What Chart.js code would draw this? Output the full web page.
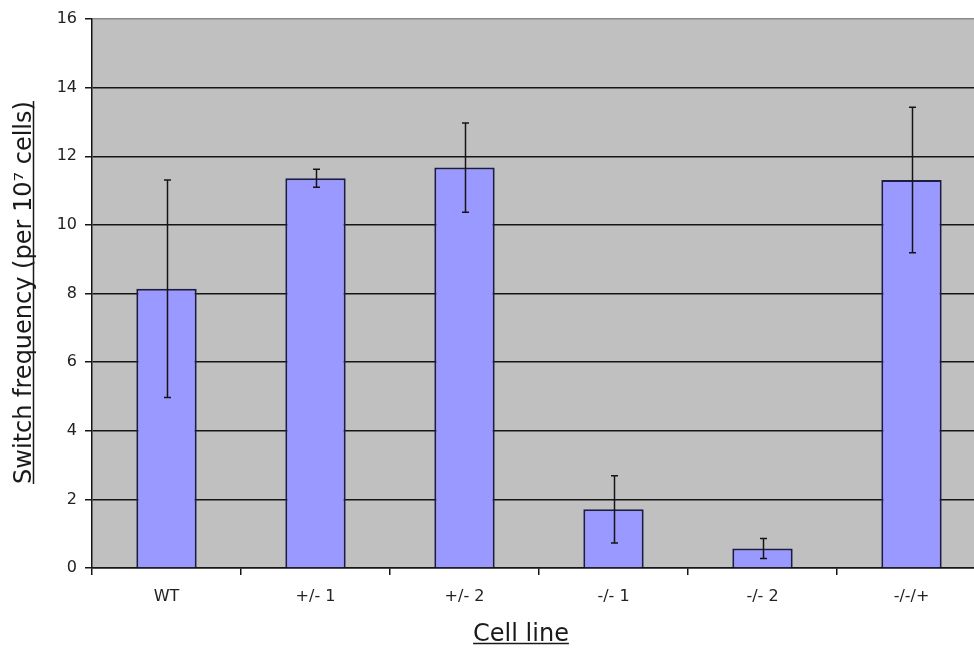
<!DOCTYPE html>
<html>
<head>
<meta charset="utf-8">
<script src="https://cdn.jsdelivr.net/npm/chart.js@4"></script>
<style>
  html, body { margin: 0; padding: 0; background: #ffffff; overflow: hidden; }
  #wrap { width: 986px; height: 649px; }
</style>
</head>
<body>
<div id="wrap"><canvas id="chart" width="986" height="649"></canvas></div>
<script>
// Cell lines and measured switch frequencies (per 10^7 cells)
const cellLines = ['WT', '+/- 1', '+/- 2', '-/- 1', '-/- 2', '-/-/+'];
const switchFrequency = [8.14, 11.36, 11.67, 1.71, 0.57, 11.31];
const errorValues = [3.17, 0.26, 1.30, 0.98, 0.29, 2.12];
const yTicks = [0, 2, 4, 6, 8, 10, 12, 14, 16];

const yTitle = 'Switch frequency (per 10\u2077 cells)';
const xTitle = 'Cell line';

const FONT = '"DejaVu Sans", Verdana, sans-serif';

// grey plot background
const plotBackground = {
  id: 'plotBackground',
  beforeDraw(chart) {
    const { ctx, chartArea: a } = chart;
    ctx.save();
    ctx.fillStyle = '#c0c0c0';
    ctx.fillRect(a.left, a.top, a.right - a.left, a.bottom - a.top);
    ctx.restore();
  }
};

// symmetric error bars from errorValues
const errorBars = {
  id: 'errorBars',
  afterDatasetsDraw(chart) {
    const { ctx } = chart;
    const y = chart.scales.y;
    const meta = chart.getDatasetMeta(0);
    ctx.save();
    ctx.strokeStyle = '#151515';
    ctx.lineWidth = 1.5;
    meta.data.forEach((bar, i) => {
      const v = switchFrequency[i], e = errorValues[i];
      const top = y.getPixelForValue(v + e);
      const bot = y.getPixelForValue(v - e);
      const x = Math.round(bar.x) + 0.5;
      ctx.beginPath();
      ctx.moveTo(x, top); ctx.lineTo(x, bot);
      ctx.moveTo(x - 3.5, top); ctx.lineTo(x + 3.5, top);
      ctx.moveTo(x - 3.5, bot); ctx.lineTo(x + 3.5, bot);
      ctx.stroke();
    });
    ctx.restore();
  }
};

// underlined axis titles
const axisTitles = {
  id: 'axisTitles',
  afterDraw(chart) {
    const { ctx, chartArea: a } = chart;
    ctx.save();
    ctx.fillStyle = '#1a1a1a';
    ctx.strokeStyle = '#1a1a1a';
    ctx.lineWidth = 1.5;
    ctx.font = '24px ' + FONT;
    ctx.textBaseline = 'alphabetic';
    ctx.textAlign = 'center';

    // x title
    const xw = ctx.measureText(xTitle).width;
    const xc = 521, xb = 641;
    ctx.fillText(xTitle, xc, xb);
    ctx.beginPath();
    ctx.moveTo(xc - xw / 2, xb + 2.5); ctx.lineTo(xc + xw / 2, xb + 2.5);
    ctx.stroke();

    // y title, rotated
    const yw = ctx.measureText(yTitle).width;
    const yc = (a.top + a.bottom) / 2 - 1;
    ctx.translate(31, yc);
    ctx.rotate(-Math.PI / 2);
    ctx.fillText(yTitle, 0, 0);
    ctx.beginPath();
    ctx.moveTo(-yw / 2, 2.5); ctx.lineTo(yw / 2, 2.5);
    ctx.stroke();
    ctx.restore();
  }
};

new Chart(document.getElementById('chart'), {
  type: 'bar',
  data: {
    labels: cellLines,
    datasets: [{
      data: switchFrequency,
      backgroundColor: '#9999ff',
      borderColor: '#1c1c48',
      borderWidth: 2,
      categoryPercentage: 1,
      barPercentage: 0.405
    }]
  },
  options: {
    responsive: false,
    animation: false,
    devicePixelRatio: 1,
    layout: { padding: { top: 19, right: 0, left: 0, bottom: 0 } },
    plugins: { legend: { display: false }, tooltip: { enabled: false } },
    scales: {
      x: {
        offset: true,
        grid: { offset: true, drawOnChartArea: false, drawTicks: true, tickLength: 7, color: '#151515', lineWidth: 1.5 },
        border: { display: true, color: '#151515', width: 1.5 },
        ticks: { color: '#222222', font: { family: FONT, size: 16 }, padding: 12, maxRotation: 0 },
        afterFit(scale) { scale.height = 81; }
      },
      y: {
        min: 0, max: 16,
        afterBuildTicks(scale) { scale.ticks = yTicks.map(v => ({ value: v })); },
        grid: {
          color: ctx => (ctx.tick && ctx.tick.value === 16) ? '#8a8a8a' : '#151515',
          tickColor: '#151515',
          lineWidth: 1.5,
          tickLength: 7
        },
        border: { display: true, color: '#151515', width: 1.5 },
        ticks: { color: '#222222', font: { family: FONT, size: 16 }, padding: 8 },
        afterFit(scale) { scale.width = 92; }
      }
    }
  },
  plugins: [plotBackground, errorBars, axisTitles]
});
</script>
</body>
</html>
